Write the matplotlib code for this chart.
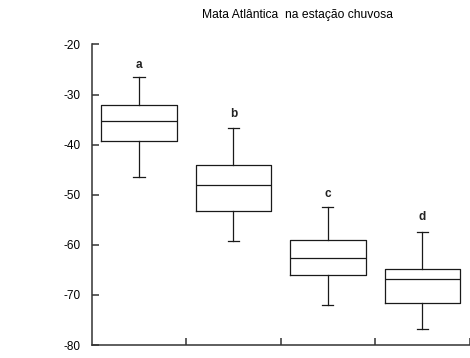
import matplotlib.pyplot as plt

plt.rcParams['font.family'] = ['Liberation Sans', 'DejaVu Sans']

# box statistics per group (values in the axis units)
groups = ['a', 'b', 'c', 'd']
whisker_low = [-46.4, -59.3, -71.9, -76.7]
q1 = [-39.2, -53.2, -66.0, -71.6]
medians = [-35.2, -48.0, -62.6, -66.8]
q3 = [-32.0, -44.1, -59.1, -64.9]
whisker_high = [-26.6, -36.6, -52.4, -57.4]
letter_y = [-24.1, -33.8, -49.8, -54.4]

yticks = [-80, -70, -60, -50, -40, -30, -20]

stats = []
for i, g in enumerate(groups):
    stats.append({
        'label': g,
        'whislo': whisker_low[i],
        'q1': q1[i],
        'med': medians[i],
        'q3': q3[i],
        'whishi': whisker_high[i],
        'fliers': [],
    })

fig = plt.figure(figsize=(4.7, 3.58), dpi=100)
ax = fig.add_axes([0.195, 0.036, 0.804, 0.840])

line = dict(color='#1a1a1a', linewidth=0.9)
positions = list(range(1, len(groups) + 1))
ax.bxp(stats, positions=positions, widths=0.8, capwidths=0.12,
       boxprops=line, whiskerprops=line, capprops=line, medianprops=line,
       showfliers=False)

for x, y, g in zip(positions, letter_y, groups):
    ax.text(x, y, g, ha='center', va='center', fontsize=8.5,
            fontweight='bold', color='#222')

ax.set_xlim(0.5, 4.5)
ax.set_ylim(-80, -20)
ax.set_yticks(yticks)
ax.set_yticklabels([str(t) for t in yticks], fontsize=8.5)
ax.set_xticks([1.5, 2.5, 3.5, 4.5])
ax.set_xticklabels([])

ax.spines['top'].set_visible(False)
ax.spines['right'].set_visible(False)
for s in ('left', 'bottom'):
    ax.spines[s].set_color('#333')
    ax.spines[s].set_linewidth(1.1)
ax.tick_params(axis='both', direction='in', length=5, width=1.1,
               color='#333', pad=8)

fig.text(298 / 470, 1 - 15 / 358, 'Mata Atlântica  na estação chuvosa',
         ha='center', va='center', fontsize=8.7)

fig.savefig('out.png', dpi=100)
